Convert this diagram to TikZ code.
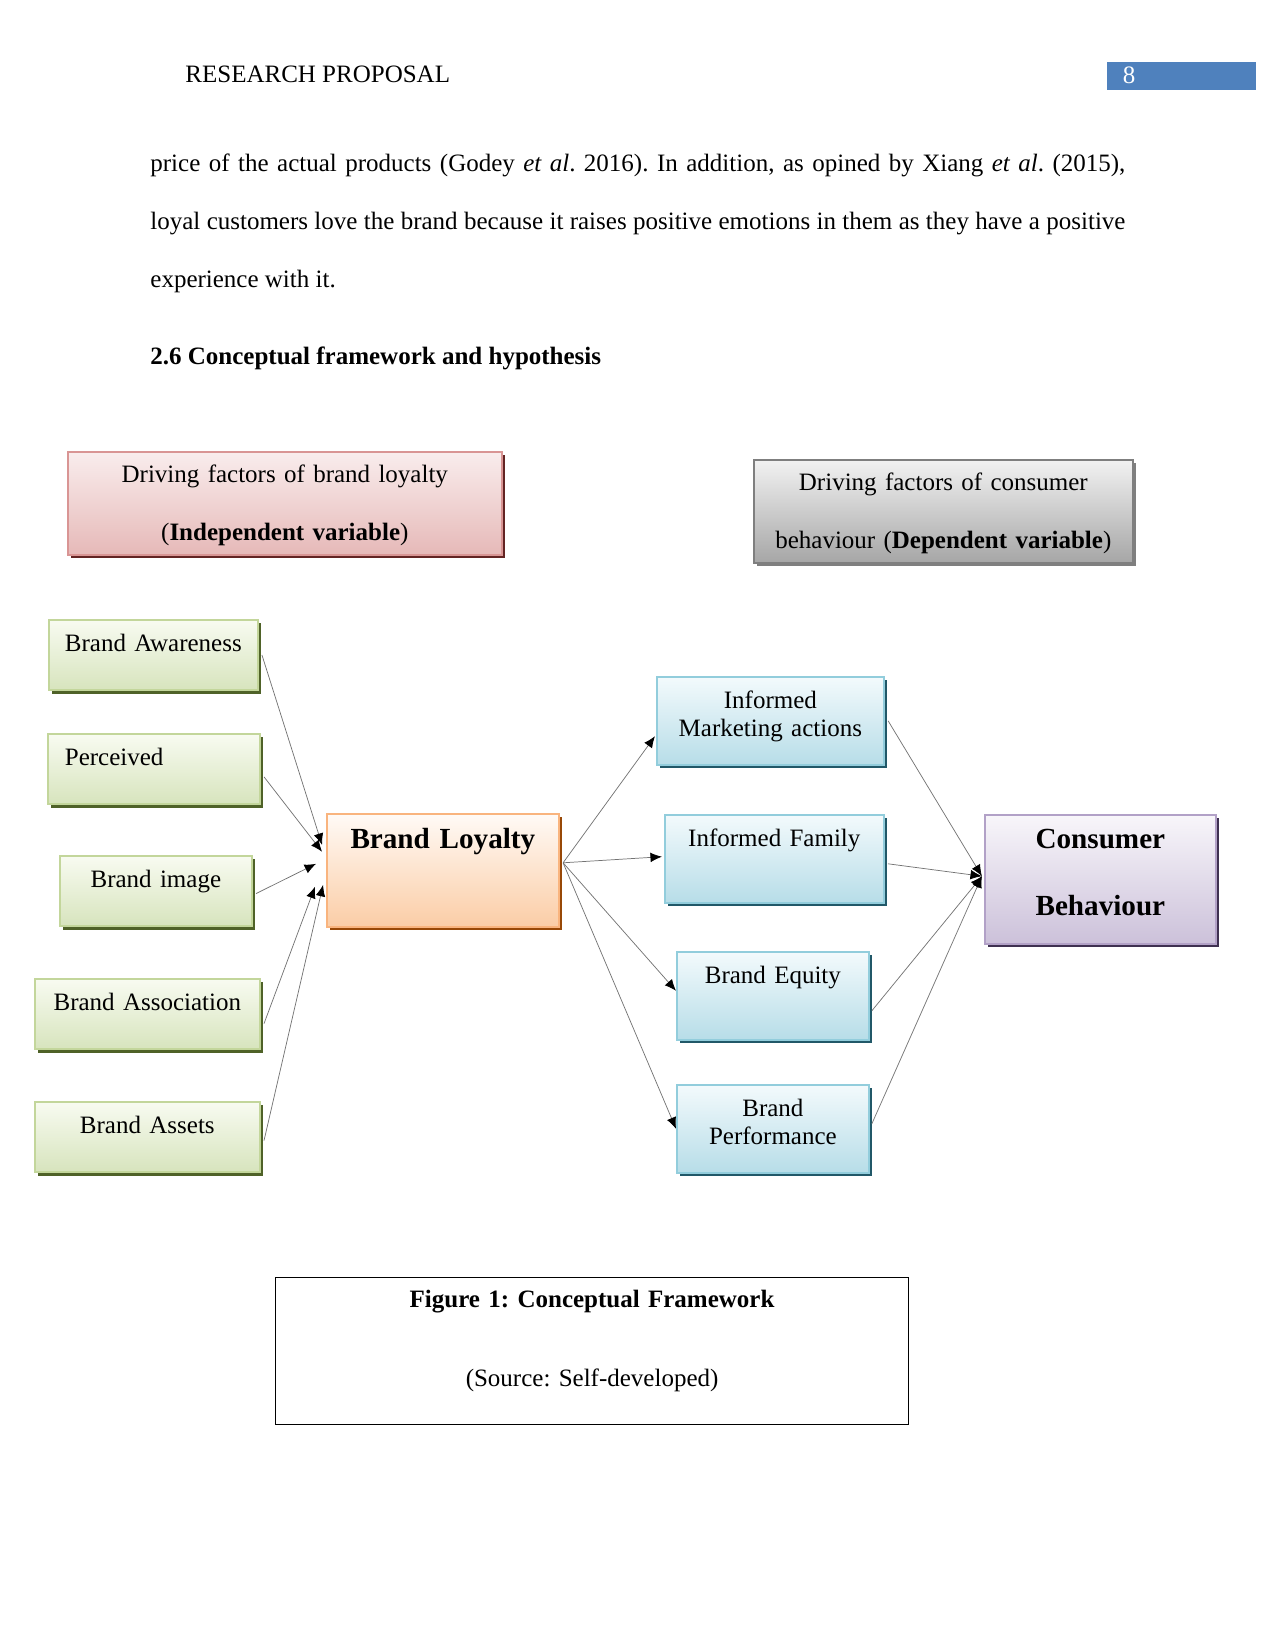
\documentclass[tikz,border=0pt]{standalone}
\usepackage{fontspec}
\setmainfont{Liberation Serif}
\frenchspacing
\usetikzlibrary{arrows.meta, shadows}
\definecolor{pageblue}{HTML}{4F81BD}
\definecolor{greentop}{HTML}{F8FBF1}
\definecolor{greenbot}{HTML}{D7E4BD}
\definecolor{greenline}{HTML}{C3D69B}
\definecolor{greenshade}{HTML}{4F6228}
\definecolor{pinktop}{HTML}{F9EDED}
\definecolor{pinkbot}{HTML}{E6B9B8}
\definecolor{pinkline}{HTML}{D99594}
\definecolor{pinkshade}{HTML}{632423}
\definecolor{graytop}{HTML}{F2F2F2}
\definecolor{graybot}{HTML}{A6A6A6}
\definecolor{grayline}{HTML}{7F7F7F}
\definecolor{grayshade}{HTML}{7F7F7F}
\definecolor{orangetop}{HTML}{FFFAF6}
\definecolor{orangebot}{HTML}{FBCDA6}
\definecolor{orangeline}{HTML}{F9B47E}
\definecolor{orangeshade}{HTML}{984807}
\definecolor{bluetop}{HTML}{F3FAFC}
\definecolor{bluebot}{HTML}{B7DDE8}
\definecolor{blueline}{HTML}{92CDDC}
\definecolor{blueshade}{HTML}{215868}
\definecolor{violettop}{HTML}{F8F6FA}
\definecolor{violetbot}{HTML}{CCC1DA}
\definecolor{violetline}{HTML}{B2A1C7}
\definecolor{violetshade}{HTML}{3F3151}
\tikzset{
    box/.style={
        rectangle, anchor=north west, inner xsep=2pt, inner ysep=0pt,
        line width=0.8pt, align=center, font=\fontsize{12pt}{13.8pt}\selectfont
    },
    castshadow/.style={
        drop shadow={shadow xshift=1.6pt, shadow yshift=-1.6pt, fill=#1, opacity=1}
    },
    factor/.style={
        box, top color=greentop, bottom color=greenbot, draw=greenline,
        castshadow=greenshade, text height=15pt, text depth=18.8pt
    },
    outcome/.style={
        box, top color=bluetop, bottom color=bluebot, draw=blueline,
        castshadow=blueshade, text height=15pt, text depth=27.2pt
    },
    core/.style={
        box, top color=orangetop, bottom color=orangebot, draw=orangeline,
        castshadow=orangeshade, font=\fontsize{14pt}{16pt}\selectfont\bfseries,
        text height=16.8pt, text depth=37.4pt
    },
    target/.style={
        box, top color=violettop, bottom color=violetbot, draw=violetline,
        castshadow=violetshade, font=\fontsize{14pt}{32.2pt}\selectfont\bfseries,
        text height=16.3pt, text depth=45.6pt
    },
    varbox/.style={
        box, font=\fontsize{12pt}{28pt}\selectfont,
        text height=14.6pt, text depth=34.8pt
    },
    independent/.style={
        top color=pinktop, bottom color=pinkbot, draw=pinkline, castshadow=pinkshade
    },
    dependent/.style={
        top color=graytop, bottom color=graybot, draw=grayline, castshadow=grayshade
    },
    arrow/.style={
        draw=black!55, line width=0.35pt,
        -{Latex[length=5.5pt, width=4.6pt, color=black]}
    },
    plain/.style={
        inner sep=0pt, anchor=base west, font=\fontsize{12pt}{14pt}\selectfont
    }
}
\begin{document}
\begin{tikzpicture}[x=0.48pt, y=-0.48pt]
    \useasboundingbox (0,0) rectangle (1275,1650);

    \node[plain] (runhead) at (185,83) {RESEARCH PROPOSAL};
    \node[box, fill=pageblue, draw=none, align=left, inner xsep=7.7pt, text width=56.1pt,
          text height=10.6pt, text depth=2.8pt, text=white] (pagebox) at (1106,61) {8};

    \node[plain] (para1) at (150,172)
        {\makebox[468pt][s]{price of the actual products (Godey \textit{et al}. 2016). In addition, as opined by Xiang \textit{et al}. (2015),}};
    \node[plain] (para2) at (150,230)
        {\makebox[468pt][s]{loyal customers love the brand because it raises positive emotions in them as they have a positive}};
    \node[plain] (para3) at (150,288) {experience with it.};
    \node[plain, font=\fontsize{12pt}{14pt}\selectfont\bfseries] (secthead) at (150,365)
        {2.6 Conceptual framework and hypothesis};

    \node[varbox, independent, text width=204.3pt] (indep) at (67,451)
        {Driving factors of brand loyalty\\(\textbf{Independent variable})};
    \node[varbox, dependent, text width=177.9pt] (dep) at (753,459)
        {Driving factors of consumer\\behaviour (\textbf{Dependent variable})};

    \node[factor, text width=96.3pt]                              (aware)  at (48,619)  {Brand Awareness};
    \node[factor, align=left, inner xsep=8.2pt, text width=85.4pt] (percv)  at (47,733)  {Perceived};
    \node[factor, text width=88.2pt]                              (image)  at (59,855)  {Brand image};
    \node[factor, text width=104pt]                               (assoc)  at (34,978)  {Brand Association};
    \node[factor, text width=104pt]                               (assets) at (34,1101) {Brand Assets};

    \node[core, text width=107.4pt] (loyal) at (326,813) {Brand Loyalty};

    \node[outcome, text width=105pt]   (mkt)    at (656,676)  {Informed\\Marketing actions};
    \node[outcome, text width=101.1pt] (family) at (664,814)  {Informed Family};
    \node[outcome, text width=88.2pt]  (equity) at (676,951)  {Brand Equity};
    \node[outcome, text width=88.2pt]  (perf)   at (676,1084) {Brand\\Performance};

    \node[target, text width=106.9pt] (cons) at (984,814) {Consumer\\Behaviour};

    \draw[arrow] ([xshift=1.6pt]aware.east)                 -- ([xshift=-1.9pt, yshift=12.2pt]loyal.west);
    \draw[arrow] ([xshift=1.6pt, yshift=-3.8pt]percv.east)  -- ([xshift=-1.9pt, yshift=8.9pt]loyal.west);
    \draw[arrow] ([xshift=1.6pt, yshift=-1.2pt]image.east)  -- ([xshift=-4.8pt, yshift=3.1pt]loyal.west);
    \draw[arrow] ([xshift=1.6pt, yshift=-4.6pt]assoc.east)  -- ([xshift=-5.3pt, yshift=-7.9pt]loyal.west);
    \draw[arrow] ([xshift=1.6pt, yshift=-1.7pt]assets.east) -- ([xshift=-1.4pt, yshift=-7pt]loyal.west);

    \draw[arrow] ([xshift=1.6pt, yshift=3.6pt]loyal.east) -- ([xshift=-0.5pt, yshift=-7.4pt]mkt.west);
    \draw[arrow] ([xshift=1.6pt, yshift=3.6pt]loyal.east) -- ([xshift=-1pt, yshift=1pt]family.west);
    \draw[arrow] ([xshift=1.6pt, yshift=3.6pt]loyal.east) -- ([yshift=2.4pt]equity.west);
    \draw[arrow] ([xshift=1.6pt, yshift=3.6pt]loyal.east) -- (perf.west);

    \draw[arrow] ([xshift=1.6pt]mkt.east)                   -- ([xshift=-1pt, yshift=1.5pt]cons.west);
    \draw[arrow] ([xshift=1.6pt, yshift=-2.4pt]family.east) -- ([xshift=-1pt, yshift=1.5pt]cons.west);
    \draw[arrow] ([xshift=1pt, yshift=-7.2pt]equity.east)   -- ([xshift=-1pt, yshift=1.5pt]cons.west);
    \draw[arrow] ([xshift=1pt, yshift=2.4pt]perf.east)      -- ([xshift=-1pt, yshift=1.5pt]cons.west);

    \node[box, draw=black, line width=0.6pt, fill=white, font=\fontsize{12pt}{37.9pt}\selectfont,
          text width=299.8pt, text height=14.4pt, text depth=56.2pt] (caption) at (275,1277)
        {\textbf{Figure 1: Conceptual Framework}\\(Source: Self-developed)};
\end{tikzpicture}
\end{document}
